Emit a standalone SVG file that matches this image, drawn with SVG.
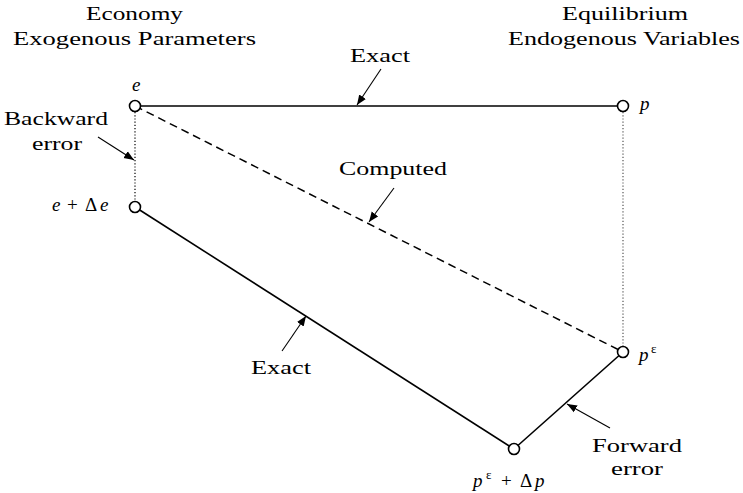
<svg xmlns="http://www.w3.org/2000/svg" width="743" height="493" viewBox="0 0 743 493">
<style>
.t{font-family:'Liberation Serif','DejaVu Serif',serif;font-size:19px;fill:#000}
.c{text-anchor:middle}
.i{font-style:italic}
.sup{font-size:13px}
.solid{stroke:#000;stroke-width:1.6;fill:none}
.dash{stroke:#000;stroke-width:1.5;fill:none;stroke-dasharray:8 5}
.dot{stroke:#000;stroke-width:1.2;fill:none;stroke-dasharray:1.2 2}
.dotg{stroke:#555;stroke-width:1.2;fill:none;stroke-dasharray:1.2 2}
.arr{stroke:#000;stroke-width:1.1;fill:none;marker-end:url(#ah)}
.node{fill:#fff;stroke:#000;stroke-width:1.6}
</style>
<defs>
<marker id="ah" viewBox="0 0 10 10" refX="10" refY="5" markerWidth="10" markerHeight="10" markerUnits="userSpaceOnUse" orient="auto">
<path d="M0,1 L10,5 L0,9 Z" fill="#000"/>
</marker>
</defs>
<g id="headers">
<text class="t c" x="134.5" y="20" textLength="97" lengthAdjust="spacingAndGlyphs">Economy</text>
<text class="t c" x="134.5" y="45" textLength="243" lengthAdjust="spacingAndGlyphs">Exogenous Parameters</text>
<text class="t c" x="625" y="20" textLength="126" lengthAdjust="spacingAndGlyphs">Equilibrium</text>
<text class="t c" x="624" y="45" textLength="232" lengthAdjust="spacingAndGlyphs">Endogenous Variables</text>
</g>
<g id="connectors">
<line class="solid" x1="135" y1="106" x2="623" y2="106"/>
<line class="dash" x1="135" y1="106" x2="623" y2="352"/>
<line class="solid" x1="135" y1="207" x2="514" y2="449"/>
<line class="solid" x1="514" y1="449" x2="623" y2="352"/>
<line class="dot" x1="135" y1="112" x2="135" y2="201"/>
<line class="dotg" x1="623" y1="112" x2="623" y2="346"/>
</g>
<g id="annotations">
<text class="t c" x="380" y="62" textLength="60" lengthAdjust="spacingAndGlyphs">Exact</text>
<line class="arr" x1="381" y1="69" x2="357" y2="105"/>
<text class="t c" x="56" y="125" textLength="104" lengthAdjust="spacingAndGlyphs">Backward</text>
<text class="t c" x="57" y="150" textLength="50" lengthAdjust="spacingAndGlyphs">error</text>
<line class="arr" x1="98" y1="137" x2="134" y2="160"/>
<text class="t c" x="393" y="175" textLength="108" lengthAdjust="spacingAndGlyphs">Computed</text>
<line class="arr" x1="394" y1="188" x2="369" y2="222"/>
<text class="t c" x="281" y="374" textLength="60" lengthAdjust="spacingAndGlyphs">Exact</text>
<line class="arr" x1="282" y1="351" x2="306" y2="316"/>
<text class="t c" x="637" y="452" textLength="90" lengthAdjust="spacingAndGlyphs">Forward</text>
<text class="t c" x="637" y="475" textLength="52" lengthAdjust="spacingAndGlyphs">error</text>
<line class="arr" x1="610" y1="428" x2="567" y2="404"/>
</g>
<g id="node-e">
<circle class="node" cx="135" cy="106" r="5.5"/>
<text class="t i" x="132" y="91">e</text>
</g>
<g id="node-p">
<circle class="node" cx="623" cy="106" r="5.5"/>
<text class="t i" x="640" y="110">p</text>
</g>
<g id="node-e-de">
<circle class="node" cx="135" cy="207" r="5.5"/>
<text class="t" x="52" y="211"><tspan class="i">e</tspan><tspan x="67">+</tspan><tspan x="85">Δ</tspan><tspan class="i" x="100">e</tspan></text>
</g>
<g id="node-peps">
<circle class="node" cx="623" cy="352" r="5.5"/>
<text class="t" x="639" y="361"><tspan class="i">p</tspan><tspan class="sup" x="651" y="353">ε</tspan></text>
</g>
<g id="node-peps-dp">
<circle class="node" cx="514" cy="449" r="5.5"/>
<text class="t" x="473" y="487"><tspan class="i">p</tspan><tspan class="sup" x="486" y="479">ε</tspan><tspan x="501" y="487">+</tspan><tspan x="520">Δ</tspan><tspan class="i" x="535">p</tspan></text>
</g>
</svg>
